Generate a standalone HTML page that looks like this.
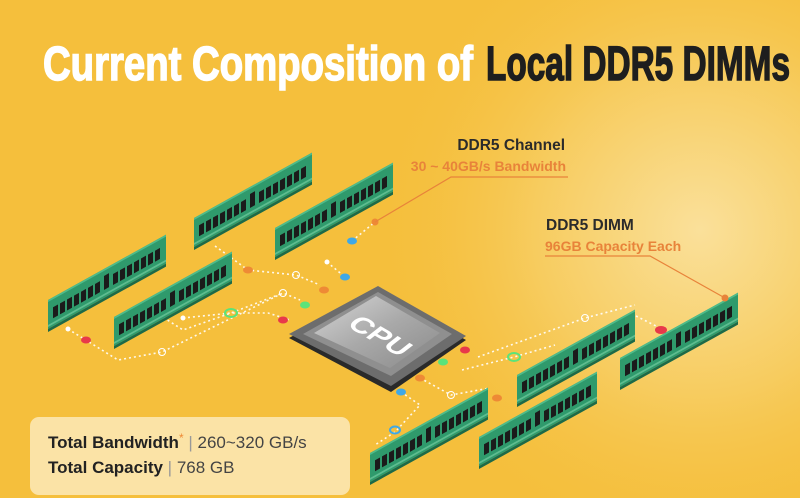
<!DOCTYPE html>
<html><head><meta charset="utf-8"><style>
html,body{margin:0;padding:0;width:800px;height:498px;overflow:hidden}
body{background:#f5bf3c;font-family:"Liberation Sans",sans-serif}
</style></head><body>
<svg width="800" height="498" viewBox="0 0 800 498" xmlns="http://www.w3.org/2000/svg">
<defs>
<radialGradient id="bg" cx="700" cy="230" r="330" gradientUnits="userSpaceOnUse">
<stop offset="0" stop-color="#fae09a"/><stop offset="0.5" stop-color="#f7cc5f"/><stop offset="1" stop-color="#f5bf3c" stop-opacity="0"/>
</radialGradient>
<linearGradient id="lid" x1="0" y1="0" x2="1" y2="1">
<stop offset="0" stop-color="#d6d6d6"/><stop offset="0.5" stop-color="#a9a9a9"/><stop offset="1" stop-color="#8a8a8a"/>
</linearGradient>
<g id="dimm">
<rect x="0" y="0" width="118" height="29" fill="#2f9a6c"/>
<rect x="0" y="0" width="118" height="2" fill="#4fbb8a"/>
<rect x="0" y="29" width="118" height="3" fill="#1d6a48"/>
<rect x="0" y="25" width="118" height="2" fill="#7fd3a8" opacity="0.6"/>
<g fill="#1b1b1b">
<rect x="5" y="10" width="5" height="11"/><rect x="12" y="10" width="5" height="11"/><rect x="19" y="10" width="5" height="11"/><rect x="26" y="10" width="5" height="11"/><rect x="33" y="10" width="5" height="11"/><rect x="40" y="10" width="5" height="11"/><rect x="47" y="10" width="5" height="11"/>
<rect x="56" y="7" width="5" height="14"/>
<rect x="65" y="10" width="5" height="11"/><rect x="72" y="10" width="5" height="11"/><rect x="79" y="10" width="5" height="11"/><rect x="86" y="10" width="5" height="11"/><rect x="93" y="10" width="5" height="11"/><rect x="100" y="10" width="5" height="11"/><rect x="107" y="10" width="5" height="11"/>
</g>
</g>
</defs>
<rect width="800" height="498" fill="url(#bg)"/>

<text x="43" y="80" textLength="430" lengthAdjust="spacingAndGlyphs" font-family="Liberation Sans Narrow, Liberation Sans, sans-serif" font-weight="bold" font-size="48" fill="#fff" stroke="#fff" stroke-width="1.5">Current Composition of</text>
<text x="486" y="80" textLength="304" lengthAdjust="spacingAndGlyphs" font-family="Liberation Sans Narrow, Liberation Sans, sans-serif" font-weight="bold" font-size="48" fill="#1e1e1e" stroke="#1e1e1e" stroke-width="1.5">Local DDR5 DIMMs</text>

<g fill="none" stroke="#fff" stroke-width="1.6" stroke-dasharray="2 3" opacity="0.9">
<polyline points="68,329 118,360 162,352 283,293 300,300"/>
<polyline points="155,312 183,330 231,313 283,293"/>
<polyline points="215,246 248,270 296,275 320,285"/>
<polyline points="183,318 231,313 268,313 290,320"/>
<polyline points="327,262 345,277"/>
<polyline points="352,241 375,222"/>
<polyline points="478,357 585,318 635,305"/>
<polyline points="462,370 514,357 555,345"/>
<polyline points="420,378 451,395 490,388"/>
<polyline points="401,392 420,405 395,432 375,445"/>
<polyline points="636,316 660,328"/>
</g>
<g>
<ellipse cx="86" cy="340" rx="5" ry="3.5" fill="#e8394a"/>
<circle cx="68" cy="329" r="2.5" fill="#fff"/>
<circle cx="162" cy="352" r="3.5" fill="none" stroke="#fff"/>
<circle cx="183" cy="318" r="2.5" fill="#fff"/>
<ellipse cx="231" cy="313" rx="6" ry="4" fill="none" stroke="#5be37a" stroke-width="2"/>
<circle cx="283" cy="293" r="3.5" fill="none" stroke="#fff"/>
<ellipse cx="305" cy="305" rx="5" ry="3.5" fill="#5be37a"/>
<ellipse cx="283" cy="320" rx="5" ry="3.5" fill="#e8394a"/>
<ellipse cx="248" cy="270" rx="5" ry="3.5" fill="#ee8a35"/>
<circle cx="296" cy="275" r="3.5" fill="none" stroke="#fff"/>
<ellipse cx="324" cy="290" rx="5" ry="3.5" fill="#ee8a35"/>
<ellipse cx="345" cy="277" rx="5" ry="3.5" fill="#3fa8e6"/>
<circle cx="327" cy="262" r="2.5" fill="#fff"/>
<ellipse cx="352" cy="241" rx="5" ry="3.5" fill="#3fa8e6"/>
<circle cx="375" cy="222" r="3.5" fill="#ee8a35"/>
<ellipse cx="465" cy="350" rx="5" ry="3.5" fill="#e8394a"/>
<ellipse cx="443" cy="362" rx="5" ry="3.5" fill="#5be37a"/>
<ellipse cx="514" cy="357" rx="6" ry="4" fill="none" stroke="#5be37a" stroke-width="2"/>
<circle cx="585" cy="318" r="3.5" fill="none" stroke="#fff"/>
<ellipse cx="420" cy="378" rx="5" ry="3.5" fill="#ee8a35"/>
<ellipse cx="497" cy="398" rx="5" ry="3.5" fill="#ee8a35"/>
<ellipse cx="401" cy="392" rx="5" ry="3.5" fill="#3fa8e6"/>
<ellipse cx="395" cy="430" rx="5" ry="3.5" fill="none" stroke="#3fa8e6" stroke-width="2"/>
<circle cx="451" cy="395" r="3.5" fill="none" stroke="#fff"/>
<ellipse cx="661" cy="330" rx="6" ry="4" fill="#e8394a"/>
</g>

<use href="#dimm" transform="translate(48,300) skewY(-29)"/>
<use href="#dimm" transform="translate(114,317) skewY(-29)"/>
<use href="#dimm" transform="translate(194,218) skewY(-29)"/>
<use href="#dimm" transform="translate(275,228) skewY(-29)"/>
<use href="#dimm" transform="translate(620,358) skewY(-29)"/>
<use href="#dimm" transform="translate(517,375) skewY(-29)"/>
<use href="#dimm" transform="translate(479,437) skewY(-29)"/>
<use href="#dimm" transform="translate(370,453) skewY(-29)"/>

<polygon points="378,290 466,340 391,392 289,338" fill="#2a2a2a"/>
<polygon points="378,286 466,336 391,386 289,334" fill="#6d6d6d"/>
<polygon points="378,292 452,334 391,376 303,334" fill="#8f8f8f"/>
<polygon points="376,296 440,333 390,368 314,333" fill="url(#lid)"/>
<text transform="translate(380,336) matrix(0.86,0.5,-0.7,0.55,0,0)" text-anchor="middle" font-family="Liberation Sans Narrow, Liberation Sans, sans-serif" font-weight="bold" font-size="30" fill="#fff" dy="10">CPU</text>

<text x="565" y="150" text-anchor="end" font-size="15.5" font-weight="bold" fill="#2b2b2b">DDR5 Channel</text>
<text x="566" y="171" text-anchor="end" font-size="14" font-weight="bold" fill="#e8833a">30 ~ 40GB/s Bandwidth</text>
<polyline points="568,177 451,177 375,222" fill="none" stroke="#e8833a" stroke-width="1.2"/>
<text x="546" y="230" font-size="15.5" font-weight="bold" fill="#2b2b2b">DDR5 DIMM</text>
<text x="545" y="251" font-size="14" font-weight="bold" fill="#e8833a">96GB Capacity Each</text>
<polyline points="545,256 650,256 725,298" fill="none" stroke="#e8833a" stroke-width="1.2"/>
<circle cx="725" cy="298" r="3.5" fill="#e8833a"/>

<rect x="30" y="417" width="320" height="78" rx="9" fill="#fbe3a6"/>
<text x="48" y="448" font-size="17" fill="#222"><tspan font-weight="bold">Total Bandwidth</tspan><tspan fill="#ee8a35" font-size="12" dy="-6">*</tspan><tspan dy="6" fill="#999"> | </tspan><tspan fill="#444">260~320 GB/s</tspan></text>
<text x="48" y="473" font-size="17" fill="#222"><tspan font-weight="bold">Total Capacity</tspan><tspan fill="#999"> | </tspan><tspan fill="#444">768 GB</tspan></text>
</svg>
</body></html>
